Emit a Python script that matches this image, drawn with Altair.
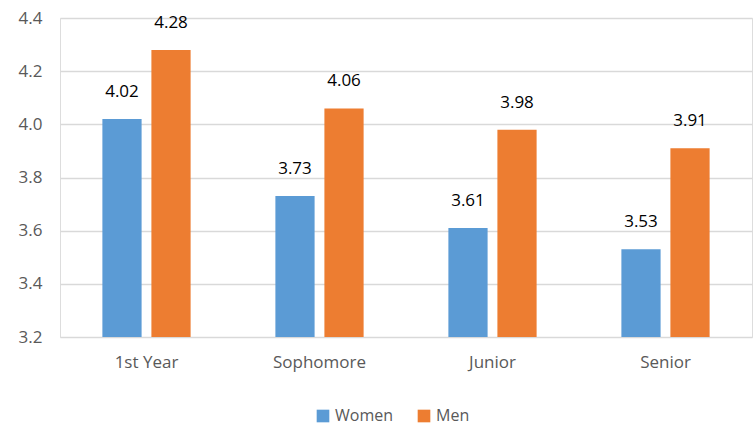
import altair as alt
import pandas as pd

categories = ["1st Year", "Sophomore", "Junior", "Senior"]
women = [4.02, 3.73, 3.61, 3.53]
men = [4.28, 4.06, 3.98, 3.91]
series = ["Women", "Men"]
colors = ["#5B9BD5", "#ED7D31"]

rows = []
for c, w, m in zip(categories, women, men):
    rows.append({"cat": c, "series": "Women", "value": w})
    rows.append({"cat": c, "series": "Men", "value": m})
df = pd.DataFrame(rows)

FONT = "Open Sans"

x = alt.X("cat:N", sort=categories, title=None,
          scale=alt.Scale(paddingInner=0.49, paddingOuter=0.245),
          axis=alt.Axis(labelAngle=0, labelFontSize=17, labelColor="#595959",
                        labelFont=FONT, ticks=False, domain=False, grid=False,
                        labelPadding=17))
xo = alt.XOffset("series:N", sort=series,
                 scale=alt.Scale(paddingInner=0.2, paddingOuter=0))
y = alt.Y("value:Q", title=None,
          scale=alt.Scale(domain=[3.2, 4.4], zero=False, nice=False),
          axis=alt.Axis(values=[3.2, 3.4, 3.6, 3.8, 4.0, 4.2, 4.4], format=".1f",
                        labelFontSize=17, labelColor="#595959", labelFont=FONT,
                        ticks=False, tickSize=0, domain=False, gridColor="#d9d9d9",
                        gridWidth=1.3, labelPadding=18))
color = alt.Color("series:N", sort=series,
                  scale=alt.Scale(domain=series, range=colors),
                  legend=alt.Legend(title=None, orient="none", direction="horizontal",
                                    legendX=255, legendY=390, symbolType="square",
                                    symbolSize=160, labelFontSize=16, labelFont=FONT,
                                    labelColor="#595959", columnPadding=22,
                                    symbolStrokeWidth=0))

base = alt.Chart(df).encode(x=x, xOffset=xo)
bars = base.mark_bar(clip=True).encode(y=y, y2=alt.datum(3.2), color=color)
labels = base.mark_text(dy=-27, fontSize=17, font=FONT, color="#000000").encode(
    y=alt.Y("value:Q"), text=alt.Text("value:Q", format=".2f"))

chart = (bars + labels).properties(
    width=692, height=319,
    autosize=alt.AutoSizeParams(type="none"),
    padding={"left": 60, "top": 18, "right": 3, "bottom": 92},
).configure_view(stroke=None).configure(background="white")

chart.save("out.html", embed_options={"renderer": "svg", "actions": False})
